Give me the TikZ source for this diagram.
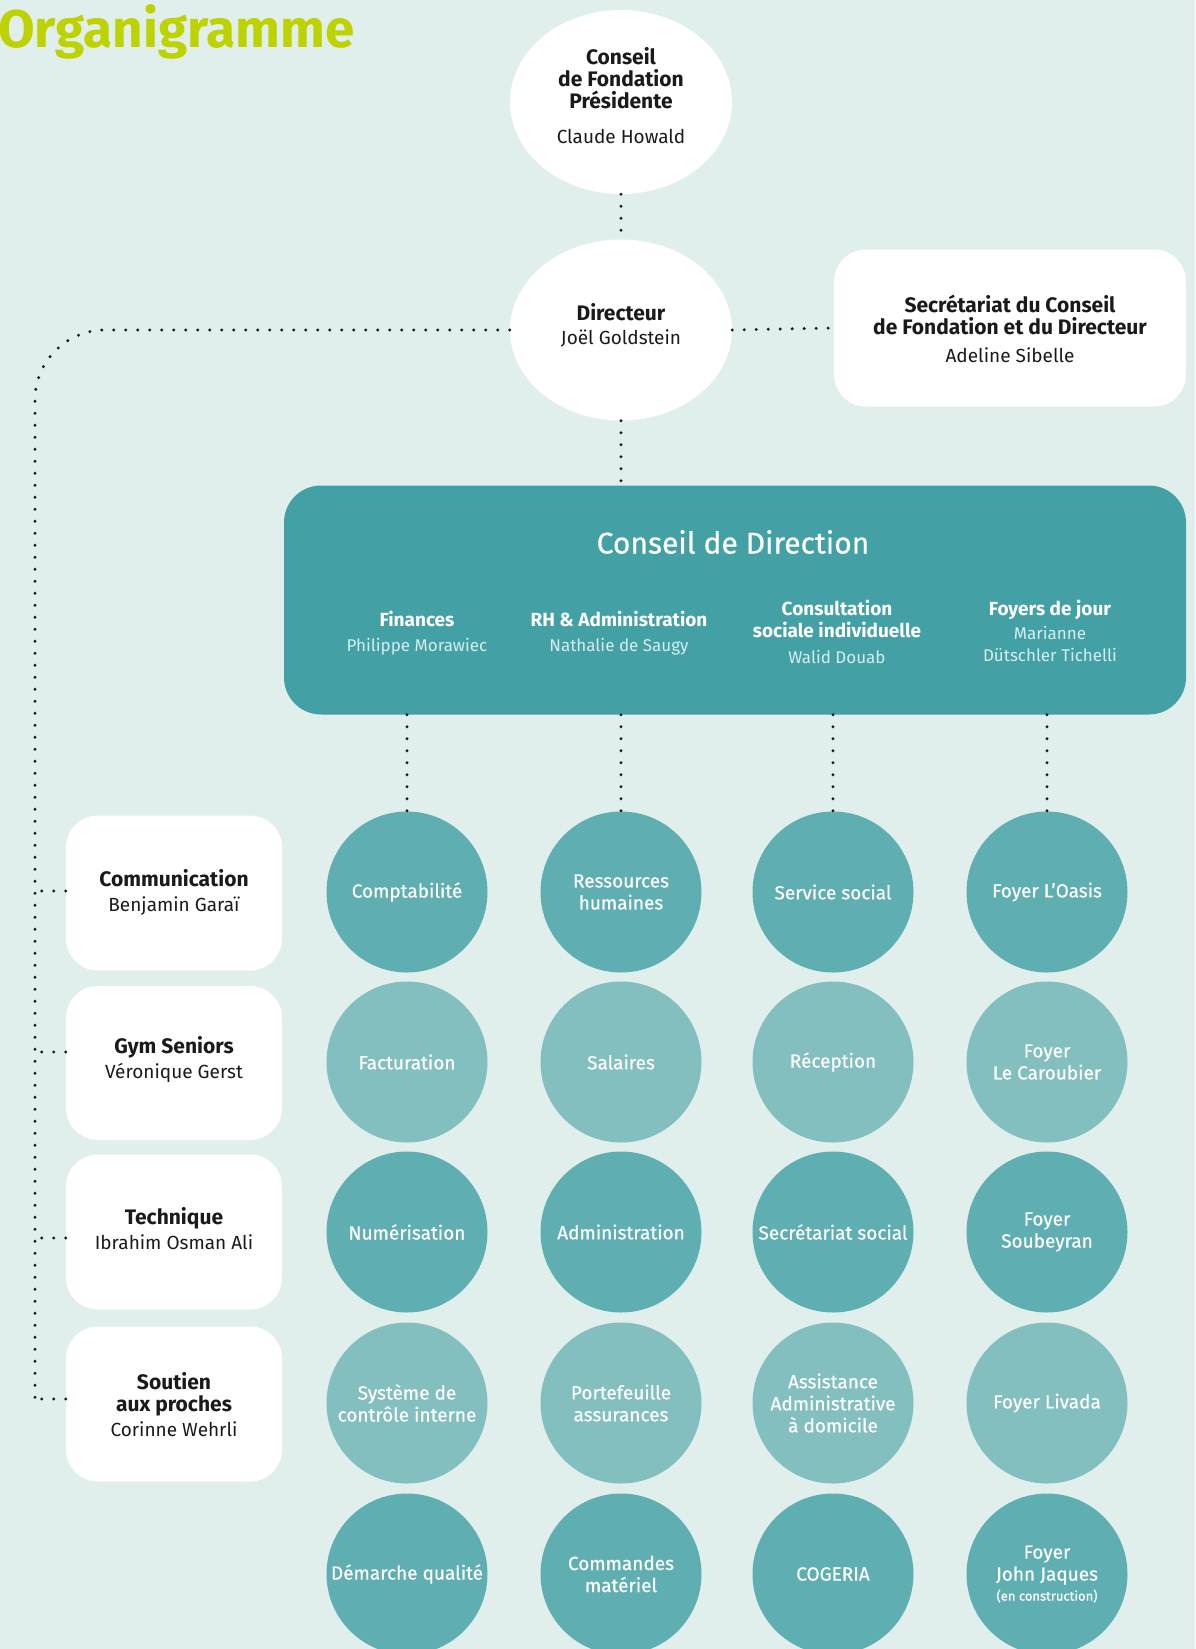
\documentclass[tikz,border=0pt]{standalone}
\usepackage{fontspec}
\setmainfont{Fira Sans}
\newfontfamily\medfont{Fira Sans}[FakeBold=0.6]
\usetikzlibrary{shapes.geometric}
\definecolor{bg}{HTML}{E1EFEC}
\definecolor{cdd}{HTML}{43A0A5}
\definecolor{dkc}{HTML}{5FAFB2}
\definecolor{ltc}{HTML}{82BFBE}
\definecolor{lime}{HTML}{BED200}
\definecolor{ink}{HTML}{1A1A1A}
\definecolor{soft}{HTML}{D6EEEE}
\begin{document}
\begin{tikzpicture}[x=1pt,y=-1pt,
  dotline/.style={draw=ink, line width=3.3pt, line cap=round, dash pattern=on 0pt off 12pt},
  ell/.style={ellipse, fill=white, minimum width=222pt, minimum height=184pt, inner sep=0pt},
  txt/.style={align=center, text=ink, inner sep=0pt},
  wbox/.style={rectangle, rounded corners=32pt, fill=white, inner sep=0pt},
  circ/.style={circle, minimum size=161pt, inner sep=0pt, align=center, text=white, font=\fontsize{19}{22}\selectfont\medfont},
  dk/.style={circ, fill=dkc},
  lt/.style={circ, fill=ltc},
  hd/.style={align=center, text=white, inner sep=0pt},
  big/.style={font=\fontsize{21}{22}\selectfont},
]
\useasboundingbox (0,0) rectangle (1195,1649);
\fill[bg] (0,0) rectangle (1195,1649);

% title
\node[anchor=base west, inner sep=0pt, text=lime, font=\fontsize{53}{56}\selectfont\bfseries] (title) at (-2,47) {Organigramme};

% top nodes
\node[ell] (cf) at (621,102) {};
\node[txt, big] (cft) at (621,96) {\textbf{Conseil}\\\textbf{de Fondation}\\\textbf{Présidente}\\[13pt]{\fontsize{19}{22}\selectfont Claude Howald}};
\node[ell, minimum height=181pt] (dir) at (621,330) {};
\node[txt, big] (dirt) at (621,325) {\textbf{Directeur}\\[2pt]{\fontsize{19}{22}\selectfont Joël Goldstein}};
\node[wbox, minimum width=352pt, minimum height=157pt] (sec) at (1010,328) {};
\node[txt, big] (sect) at (1010,329) {\textbf{Secrétariat du Conseil}\\\textbf{de Fondation et du Directeur}\\[6pt]{\fontsize{19}{22}\selectfont Adeline Sibelle}};

% conseil de direction
\node[rectangle, rounded corners=37pt, fill=cdd, minimum width=902pt, minimum height=229pt, inner sep=0pt] (cdd) at (735,600) {};
\node[hd, font=\fontsize{30}{32}\selectfont\medfont] (cddt) at (733,542) {Conseil de Direction};
\node[hd, font=\fontsize{19}{22}\selectfont] (hfin) at (417,633) {\textbf{Finances}\\[3pt]{\color{soft}\fontsize{17}{20}\selectfont Philippe Morawiec}};
\node[hd, font=\fontsize{19}{22}\selectfont] (hrh) at (619,633) {\textbf{RH \& Administration}\\[3pt]{\color{soft}\fontsize{17}{20}\selectfont Nathalie de Saugy}};
\node[hd, font=\fontsize{19}{22}\selectfont] (hcs) at (837,632) {\textbf{Consultation}\\\textbf{sociale individuelle}\\[4pt]{\color{soft}\fontsize{17}{20}\selectfont Walid Douab}};
\node[hd, font=\fontsize{19}{22}\selectfont] (hfy) at (1050,631) {\textbf{Foyers de jour}\\[2pt]{\color{soft}\fontsize{17}{24}\selectfont Marianne}\\{\color{soft}\fontsize{17}{20}\selectfont Dütschler Tichelli}};

% circles
\node[dk] (c11) at (407,892) {Comptabilité};
\node[dk] (c12) at (621,892) {Ressources\\humaines};
\node[dk] (c13) at (833,892) {Service social};
\node[dk] (c14) at (1047,892) {Foyer L’Oasis};
\node[lt] (c21) at (407,1062) {Facturation};
\node[lt] (c22) at (621,1062) {Salaires};
\node[lt] (c23) at (833,1062) {Réception};
\node[lt] (c24) at (1047,1062) {Foyer\\Le Caroubier};
\node[dk] (c31) at (407,1232) {Numérisation};
\node[dk] (c32) at (621,1232) {Administration};
\node[dk] (c33) at (833,1232) {Secrétariat social};
\node[dk] (c34) at (1047,1232) {Foyer\\Soubeyran};
\node[lt] (c41) at (407,1403) {Système de\\contrôle interne};
\node[lt] (c42) at (621,1403) {Portefeuille\\assurances};
\node[lt] (c43) at (833,1403) {Assistance\\Administrative\\à domicile};
\node[lt] (c44) at (1047,1403) {Foyer Livada};
\node[dk] (c51) at (407,1574) {Démarche qualité};
\node[dk] (c52) at (621,1574) {Commandes\\matériel};
\node[dk] (c53) at (833,1574) {COGERIA};
\node[dk] (c54) at (1047,1574) {Foyer\\John Jaques\\[-2pt]{\fontsize{13}{15}\selectfont (en construction)}};

% left boxes
\node[wbox, minimum width=216pt, minimum height=155pt] (comm) at (174,893) {};
\node[txt, big] (commt) at (174,892) {\textbf{Communication}\\[3pt]{\fontsize{19}{22}\selectfont Benjamin Garaï}};
\node[wbox, minimum width=216pt, minimum height=154pt] (gym) at (174,1063) {};
\node[txt, big] (gymt) at (174,1059) {\textbf{Gym Seniors}\\[3pt]{\fontsize{19}{22}\selectfont Véronique Gerst}};
\node[wbox, minimum width=216pt, minimum height=155pt] (tech) at (174,1232) {};
\node[txt, big] (techt) at (174,1229) {\textbf{Technique}\\[3pt]{\fontsize{19}{22}\selectfont Ibrahim Osman Ali}};
\node[wbox, minimum width=216pt, minimum height=155pt] (sout) at (174,1404) {};
\node[txt, big] (soutt) at (174,1405) {\textbf{Soutien}\\\textbf{aux proches}\\[3pt]{\fontsize{19}{22}\selectfont Corinne Wehrli}};

% connectors
\coordinate (lbot) at (35,1399);
\draw[dotline] (cf.south) -- (dir.north);
\draw[dotline] (dir.east) -- (sec.west);
\draw[dotline] (dir.south) -- (dir.south |- cdd.north);
\draw[dotline, rounded corners=70pt] (dir.west) -| (lbot);
\draw[dotline] ([yshift=2pt]comm.west) -- ([yshift=2pt]comm.west -| lbot);
\draw[dotline] ([yshift=11pt]gym.west) -- ([yshift=11pt]gym.west -| lbot);
\draw[dotline] ([yshift=-6pt]tech.west) -- ([yshift=-6pt]tech.west -| lbot);
\draw[dotline] ([yshift=5pt]sout.west) -- (lbot);
\draw[dotline] (c11.north |- cdd.south) -- (c11.north);
\draw[dotline] (c12.north |- cdd.south) -- (c12.north);
\draw[dotline] (c13.north |- cdd.south) -- (c13.north);
\draw[dotline] (c14.north |- cdd.south) -- (c14.north);
\end{tikzpicture}
\end{document}
